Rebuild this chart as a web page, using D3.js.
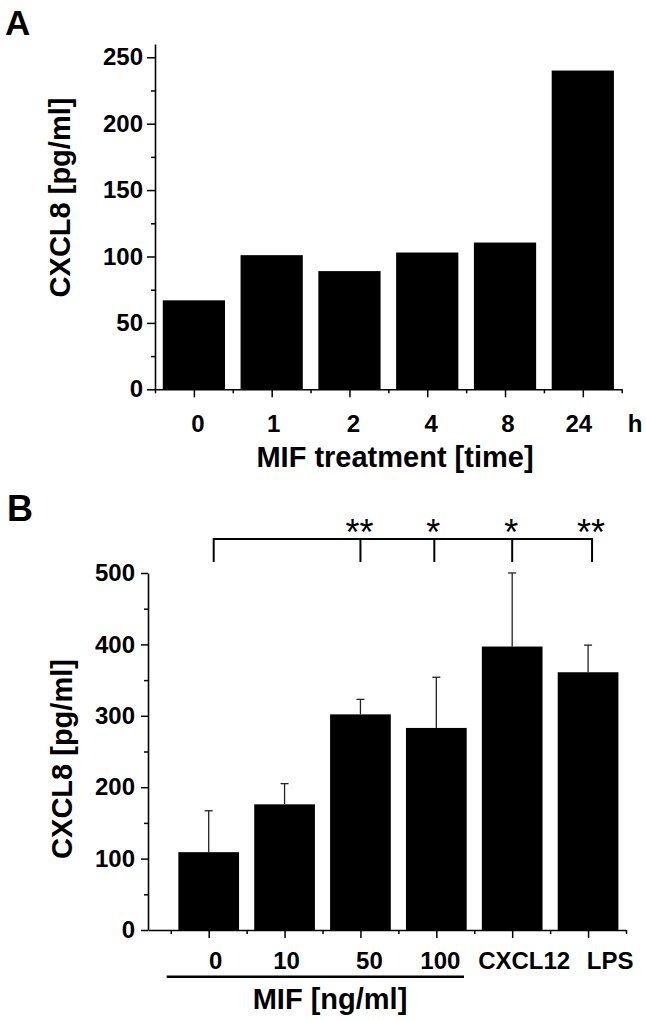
<!DOCTYPE html>
<html>
<head>
<meta charset="utf-8">
<script src="https://cdn.jsdelivr.net/npm/d3@7"></script>
<style>
  html, body { margin: 0; padding: 0; background: #fff; }
  svg text { font-family: "Liberation Sans", Arial, sans-serif; fill: #000; }
</style>
</head>
<body>
<svg id="chart" width="646" height="1020"></svg>
<script>
// ---------- Data ----------
const timeCategories = ["0", "1", "2", "4", "8", "24"];
const timeValues = [67, 101, 89, 103, 110.5, 240];
const timeYTicks = [0, 50, 100, 150, 200, 250];
const timeYMinor = [25, 75, 125, 175, 225];

const doseCategories = ["0", "10", "50", "100", "CXCL12", "LPS"];
const doseValues = [109, 176, 302, 283, 397, 361];
const doseErrors = [58, 29, 21, 71, 103, 38];
const doseYTicks = [0, 100, 200, 300, 400, 500];
const doseYMinor = [50, 150, 250, 350, 450];

const sigTargets = [2, 3, 4, 5];
const sigLabels = ["**", "*", "*", "**"];

// ---------- Layout ----------
const svg = d3.select("#chart");
const FONT = '"Liberation Sans", Arial, sans-serif';
const barFrac = 0.8;
const TICKFS = 24;

function styleAxis(g) {
  g.selectAll("path.domain").attr("stroke", "#000").attr("stroke-width", 1.6);
  g.selectAll(".tick line").attr("stroke", "#000").attr("stroke-width", 1.5);
}

// ===== Panel A =====
const xA = d3.scaleLinear().domain([0.5, 6.5]).range([155, 621.7]);
const yA = d3.scaleLinear().domain([0, 260]).range([389.3, 44]);
const stepA = xA(2) - xA(1);

svg.append("g").selectAll("rect").data(timeValues).join("rect")
  .attr("x", (d, i) => xA(i + 1) - stepA * barFrac / 2)
  .attr("width", stepA * barFrac)
  .attr("y", d => yA(d))
  .attr("height", d => yA(0) - yA(d))
  .attr("fill", "#000");

const gAy = svg.append("g").attr("transform", `translate(${xA(0.5)},0)`)
  .call(d3.axisLeft(yA).tickValues(timeYTicks).tickSize(8).tickSizeOuter(0).tickPadding(4));
gAy.selectAll("text").attr("font-size", TICKFS).attr("font-weight", "bold").attr("font-family", FONT);
styleAxis(gAy);
const gAyMinor = svg.append("g").attr("transform", `translate(${xA(0.5)},0)`)
  .call(d3.axisLeft(yA).tickValues(timeYMinor).tickSize(4).tickSizeOuter(0).tickFormat(""));
gAyMinor.select("path.domain").remove();
styleAxis(gAyMinor);

const gAx = svg.append("g").attr("transform", `translate(0,${yA(0)})`)
  .call(d3.axisBottom(xA).tickValues(d3.range(1, 7)).tickSize(8).tickSizeOuter(0).tickFormat(""));
styleAxis(gAx);
const gAxMinor = svg.append("g").attr("transform", `translate(0,${yA(0)})`)
  .call(d3.axisBottom(xA).tickValues(d3.range(0.5, 7, 1)).tickSize(4).tickSizeOuter(0).tickFormat(""));
gAxMinor.select("path.domain").remove();
styleAxis(gAxMinor);

const nudgeA = [4, 2, 4, 4, 3, -4];
svg.append("g").selectAll("text").data(timeCategories).join("text")
  .attr("x", (d, i) => xA(i + 1) + nudgeA[i])
  .attr("y", 431.5)
  .attr("text-anchor", "middle")
  .attr("font-size", TICKFS).attr("font-weight", "bold")
  .text(d => d);
svg.append("text").attr("x", 635).attr("y", 431.5).attr("text-anchor", "middle")
  .attr("font-size", TICKFS).attr("font-weight", "bold").text("h");

svg.append("text").attr("x", 395).attr("y", 466.5).attr("text-anchor", "middle")
  .attr("font-size", 29).attr("font-weight", "bold").text("MIF treatment [time]");

svg.append("text").attr("transform", "translate(70,197.5) rotate(-90)")
  .attr("text-anchor", "middle").attr("font-size", 29).attr("font-weight", "bold")
  .text("CXCL8 [pg/ml]");

svg.append("text").attr("x", 5).attr("y", 35).attr("font-size", 35).attr("font-weight", "bold").text("A");

// ===== Panel B =====
const xB = d3.scaleLinear().domain([0.2, 6.5]).range([148, 626]);
const yB = d3.scaleLinear().domain([0, 500]).range([930, 573]);
const stepB = xB(2) - xB(1);

svg.append("g").selectAll("rect").data(doseValues).join("rect")
  .attr("x", (d, i) => xB(i + 1) - stepB * barFrac / 2)
  .attr("width", stepB * barFrac)
  .attr("y", d => yB(d))
  .attr("height", d => yB(0) - yB(d))
  .attr("fill", "#000");

const errG = svg.append("g").attr("stroke", "#222").attr("stroke-width", 1.3);
doseValues.forEach((v, i) => {
  const cx = xB(i + 1);
  errG.append("line").attr("x1", cx).attr("x2", cx).attr("y1", yB(v)).attr("y2", yB(v + doseErrors[i]));
  errG.append("line").attr("x1", cx - 4).attr("x2", cx + 4).attr("y1", yB(v + doseErrors[i])).attr("y2", yB(v + doseErrors[i]));
});

const gBy = svg.append("g").attr("transform", `translate(${xB(0.2)},0)`)
  .call(d3.axisLeft(yB).tickValues(doseYTicks).tickSize(7).tickSizeOuter(0).tickPadding(6));
gBy.selectAll("text").attr("font-size", TICKFS).attr("font-weight", "bold").attr("font-family", FONT);
styleAxis(gBy);
const gByMinor = svg.append("g").attr("transform", `translate(${xB(0.2)},0)`)
  .call(d3.axisLeft(yB).tickValues(doseYMinor).tickSize(4).tickSizeOuter(0).tickFormat(""));
gByMinor.select("path.domain").remove();
styleAxis(gByMinor);

const gBx = svg.append("g").attr("transform", `translate(0,${yB(0)})`)
  .call(d3.axisBottom(xB).tickValues(d3.range(1, 7)).tickSize(8).tickSizeOuter(0).tickFormat(""));
styleAxis(gBx);
const gBxMinor = svg.append("g").attr("transform", `translate(0,${yB(0)})`)
  .call(d3.axisBottom(xB).tickValues(d3.range(0.5, 7, 1)).tickSize(4).tickSizeOuter(0).tickFormat(""));
gBxMinor.select("path.domain").remove();
styleAxis(gBxMinor);

const nudgeB = [7, 2, 9, 4, 12, 22];
svg.append("g").selectAll("text").data(doseCategories).join("text")
  .attr("x", (d, i) => xB(i + 1) + nudgeB[i])
  .attr("y", 969)
  .attr("text-anchor", "middle")
  .attr("font-size", TICKFS).attr("font-weight", "bold")
  .text(d => d);

svg.append("line").attr("x1", 166.7).attr("x2", 464).attr("y1", 976.7).attr("y2", 976.7)
  .attr("stroke", "#000").attr("stroke-width", 2.6);
svg.append("text").attr("x", 330).attr("y", 1009).attr("text-anchor", "middle")
  .attr("font-size", 29).attr("font-weight", "bold").text("MIF [ng/ml]");

svg.append("text").attr("transform", "translate(71.5,759) rotate(-90)")
  .attr("text-anchor", "middle").attr("font-size", 29).attr("font-weight", "bold")
  .text("CXCL8 [pg/ml]");

svg.append("text").attr("x", 7).attr("y", 521).attr("font-size", 36).attr("font-weight", "bold").text("B");

// significance bracket
const brY = 539, dropY = 562;
const brG = svg.append("g").attr("stroke", "#000").attr("stroke-width", 2).attr("fill", "none");
const dropNudge = [0, -2, 0, 4];
const leftX = xB(1) + 5;
const lastIdx = sigTargets.length - 1;
const rightX = xB(sigTargets[lastIdx] + 1) + dropNudge[lastIdx];
brG.append("path").attr("d", `M${leftX},${dropY}V${brY}H${rightX}V${dropY}`);
sigTargets.slice(0, lastIdx).forEach((t, i) => {
  const x = xB(t + 1) + dropNudge[i];
  brG.append("line").attr("x1", x).attr("x2", x).attr("y1", brY).attr("y2", dropY);
});
svg.append("g").selectAll("text").data(sigTargets).join("text")
  .attr("x", (t, i) => xB(t + 1) + dropNudge[i] - 1)
  .attr("y", 545)
  .attr("text-anchor", "middle")
  .attr("font-size", 36)
  .text((t, i) => sigLabels[i]);
</script>
</body>
</html>
